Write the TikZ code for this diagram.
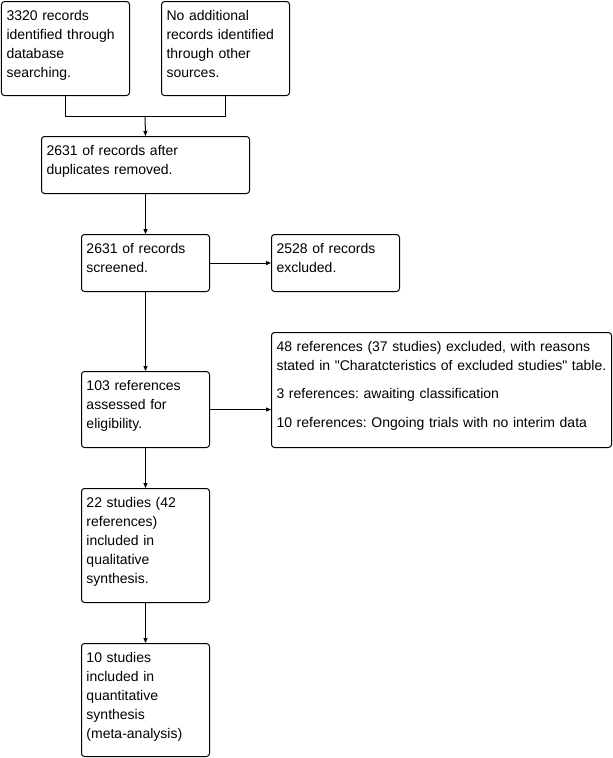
\documentclass[tikz,border=0pt]{standalone}
\usepackage{fontspec}
\setmainfont{Liberation Sans}[Ligatures=TeXOff]
\usetikzlibrary{arrows.meta}
\frenchspacing

\begin{document}
\begin{tikzpicture}[x=0.75pt, y=-0.75pt, line width=0.75pt,
                    font=\fontsize{10.5}{14.25}\selectfont,
                    flow box/.style 2 args={draw, rounded corners=2.25pt, anchor=north west,
                      align=left, inner xsep=3.75pt, inner ysep=6pt, text height=8.25pt,
                      text width=#1, text depth=#2},
                    arr/.style={-{Triangle[length=3.75pt,width=3pt]}}]
  \useasboundingbox (0,0) rectangle (613,758);

  \node[flow box={88.5pt}{50.25pt}] (database) at (1,1)
    {3320 records\\identified through\\database\\searching.};
  \node[flow box={88.5pt}{50.25pt}] (other) at (161,1)
    {No additional\\records identified\\through other\\sources.};
  \node[flow box={148.5pt}{22.5pt}] (dedup) at (41,136)
    {2631 of records after\\duplicates removed.};
  \node[flow box={88.5pt}{22.5pt}] (screened) at (81,234)
    {2631 of records\\screened.};
  \node[flow box={88.5pt}{22.5pt}] (excluded) at (271,234)
    {2528 of records\\excluded.};
  \node[flow box={247.5pt}{66pt}] (reasons) at (271,332)
    {48 references (37 studies) excluded, with reasons\\
     stated in "Charatcteristics of excluded studies" table.\\[7pt]
     3 references: awaiting classification\\[7pt]
     10 references: Ongoing trials with no interim data};
  \node[flow box={88.5pt}{36.75pt}] (assessed) at (81,371)
    {103 references\\assessed for\\eligibility.};
  \node[flow box={88.5pt}{65.25pt}] (qualitative) at (81,488)
    {22 studies (42\\references)\\included in\\qualitative\\synthesis.};
  \node[flow box={88.5pt}{64.5pt}] (quantitative) at (81,643)
    {10 studies\\included in\\quantitative\\synthesis\\(meta-analysis)};

  \coordinate (join) at (145,116);
  \draw (database.south) |- (join);
  \draw (other.south) |- (join);
  \draw[arr] (join) -- (dedup.north);
  \draw[arr] (dedup.south) -- (screened.north);
  \draw[arr] (screened.east) -- (excluded.west);
  \draw[arr] (screened.south) -- (assessed.north);
  \draw[arr] (assessed.east) -- (assessed.east -| reasons.west);
  \draw[arr] (assessed.south) -- (qualitative.north);
  \draw[arr] (qualitative.south) -- (quantitative.north);
\end{tikzpicture}
\end{document}
